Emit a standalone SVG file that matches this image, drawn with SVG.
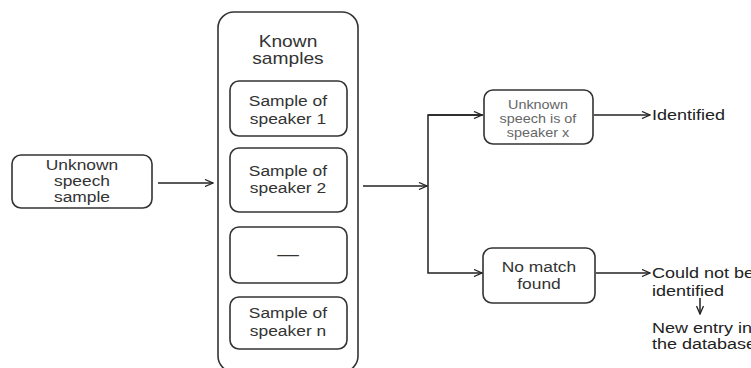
<svg xmlns="http://www.w3.org/2000/svg" width="751" height="368" viewBox="0 0 751 368">
<defs>
<marker id="ah" markerWidth="10" markerHeight="8" refX="9" refY="4" orient="auto" markerUnits="userSpaceOnUse">
<path d="M1,0.5 L9,4 L1,7.5" fill="none" stroke="#222" stroke-width="1.3"/>
</marker>
</defs>
<style>
.box{fill:#fff;stroke:#333;stroke-width:1.6}
text{font-family:"Liberation Sans",Arial,sans-serif;transform-box:fill-box;transform:scaleX(1.2)}
.t{font-size:14.5px;fill:#333;text-anchor:middle;transform-origin:center}
.h{font-size:16px;fill:#333;text-anchor:middle;transform-origin:center}
.s{font-size:12px;fill:#666;text-anchor:middle;transform-origin:center}
.l{font-size:15px;fill:#222;transform-origin:left}
.c{fill:none;stroke:#222;stroke-width:1.5}
</style>
<rect width="751" height="368" fill="#fff"/>
<g id="unknown-sample">
<rect class="box" x="12" y="155" width="140" height="53" rx="9"/>
<text class="t" x="82" y="170">Unknown</text>
<text class="t" x="82" y="186">speech</text>
<text class="t" x="82" y="202">sample</text>
</g>
<g id="known-samples">
<rect class="box" x="218" y="12" width="140" height="360" rx="16"/>
<text class="h" x="288" y="47">Known</text>
<text class="h" x="288" y="64">samples</text>
</g>
<g id="speaker1">
<rect class="box" x="230" y="81" width="117" height="55" rx="9"/>
<text class="t" x="288" y="106">Sample of</text>
<text class="t" x="288" y="124">speaker 1</text>
</g>
<g id="speaker2">
<rect class="box" x="230" y="148" width="117" height="64" rx="9"/>
<text class="t" x="288" y="176">Sample of</text>
<text class="t" x="288" y="193">speaker 2</text>
</g>
<g id="ellipsis">
<rect class="box" x="230" y="227" width="117" height="56" rx="9"/>
<text class="t" x="288" y="260" style="font-size:18px">—</text>
</g>
<g id="speakern">
<rect class="box" x="230" y="297" width="117" height="52" rx="9"/>
<text class="t" x="288" y="318">Sample of</text>
<text class="t" x="288" y="336">speaker n</text>
</g>
<g id="speaker-x">
<rect class="box" x="484" y="90" width="109" height="54" rx="9"/>
<text class="s" x="538" y="109">Unknown</text>
<text class="s" x="538" y="123">speech is of</text>
<text class="s" x="538" y="137">speaker x</text>
</g>
<g id="no-match">
<rect class="box" x="483" y="248" width="112" height="55" rx="9"/>
<text class="t" x="539" y="272">No match</text>
<text class="t" x="539" y="289">found</text>
</g>
<g id="identified">
<text class="l" x="652" y="120">Identified</text>
</g>
<g id="not-identified">
<text class="l" x="652" y="278">Could not be</text>
<text class="l" x="652" y="296">identified</text>
</g>
<g id="new-entry">
<text class="l" x="652" y="333">New entry in</text>
<text class="l" x="652" y="349">the database</text>
</g>
<g id="connectors">
<line class="c" x1="158" y1="183" x2="213" y2="183" marker-end="url(#ah)"/>
<line class="c" x1="363" y1="186" x2="427" y2="186" marker-end="url(#ah)"/>
<polyline class="c" points="483,115 428,115 428,273 482,273" marker-end="url(#ah)"/>
<line class="c" x1="428" y1="115" x2="482" y2="115" marker-end="url(#ah)"/>
<line class="c" x1="594" y1="115" x2="650" y2="115" marker-end="url(#ah)"/>
<line class="c" x1="596" y1="273" x2="650" y2="273" marker-end="url(#ah)"/>
<line class="c" x1="700" y1="298" x2="700" y2="314" marker-end="url(#ah)"/>
</g>
</svg>
